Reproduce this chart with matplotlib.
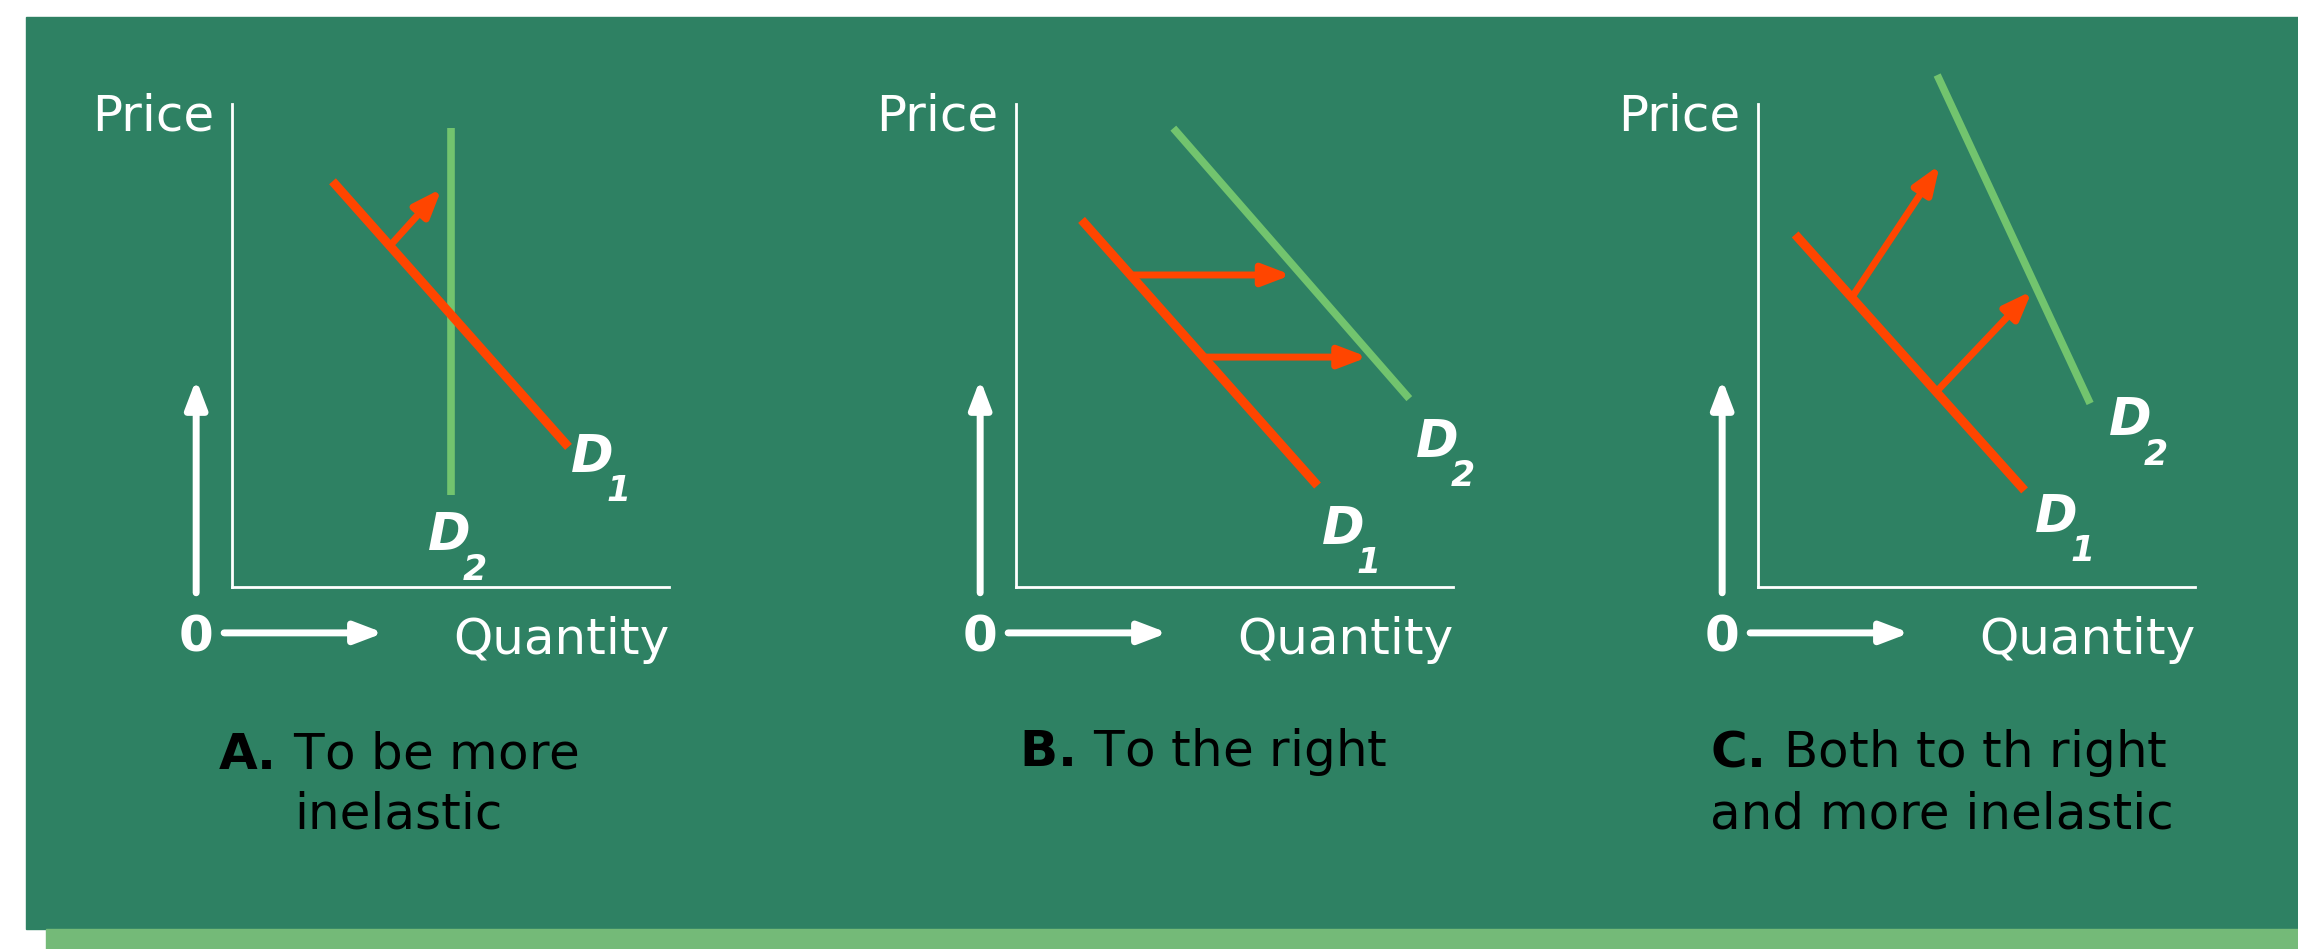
import matplotlib.pyplot as plt
from matplotlib.patches import Rectangle

plt.rcParams['font.family'] = 'DejaVu Sans'
plt.rcParams['mathtext.fontset'] = 'custom'
plt.rcParams['mathtext.bf'] = 'DejaVu Sans:bold'

# colours
bg = '#2e8163'
strip = '#74ba78'
red = '#ff4500'
green = '#72c46e'

# curves in (quantity, price) units, both axes 0..10
d1_q = {'A': [2.3, 7.7], 'B': [1.5, 6.9], 'C': [0.85, 6.1]}
d1_p = {'A': [8.4, 2.9], 'B': [7.6, 2.1], 'C': [7.3, 2.0]}
d2_q = {'A': [5.0, 5.0], 'B': [3.6, 9.0], 'C': [4.1, 7.6]}
d2_p = {'A': [9.5, 1.9], 'B': [9.5, 3.9], 'C': [10.6, 3.8]}

# shift arrows: (start_q, start_p, end_q, end_p)
shifts = {
    'A': [(3.6, 7.05, 4.8, 8.25)],
    'B': [(2.7, 6.46, 6.3, 6.46), (4.35, 4.76, 8.05, 4.76)],
    'C': [(2.15, 6.0, 4.16, 8.74), (4.12, 4.08, 6.27, 6.13)],
}

# label positions (top-left of the D)
d1_lab = {'A': (7.76, 3.19), 'B': (7.0, 1.7), 'C': (6.34, 1.95)}
d2_lab = {'A': (4.49, 1.57), 'B': (9.15, 3.5), 'C': (8.03, 3.95)}

# caption text, x, y of last baseline, alignment
captions = {
    'A': (r'$\mathbf{A.}\,$To be more' + '\ninelastic', 3.8, -5.01, 'center'),
    'B': (r'$\mathbf{B.}\,$To the right', 4.28, -3.71, 'center'),
    'C': (r'$\mathbf{C.}\,$Both to th right' + '\nand more inelastic', -1.1, -5.01, 'left'),
}

panel_x0 = {'A': 232, 'B': 1016, 'C': 1758}

W, H = 2298, 949
fig = plt.figure(figsize=(W / 100, H / 100), dpi=100)
fig.patch.set_facecolor('white')

# background panels
fig.patches.append(Rectangle((26 / W, (H - 929) / H), (W - 26) / W, (929 - 17) / H,
                             transform=fig.transFigure, color=bg, zorder=-10))
fig.patches.append(Rectangle((46 / W, 0), (W - 46) / W, (H - 929) / H,
                             transform=fig.transFigure, color=strip, zorder=-10))

arrow_kw = dict(arrowstyle='-|>,head_length=0.42,head_width=0.16',
                mutation_scale=40, shrinkA=0, shrinkB=0)


def d_label(ax, pos, sub):
    x, y = pos
    ax.text(x, y, 'D', color='white', fontsize=37, fontstyle='italic',
            fontweight='bold', va='top', ha='left')
    ax.text(x + 0.8, y - 0.86, sub, color='white', fontsize=25, fontstyle='italic',
            fontweight='bold', va='top', ha='left')


for key in ['A', 'B', 'C']:
    x0 = panel_x0[key]
    ax = fig.add_axes([x0 / W, (H - 587) / H, 437 / W, 483 / H])
    ax.set_facecolor('none')
    ax.set_xlim(0, 10)
    ax.set_ylim(0, 10)
    ax.set_xticks([])
    ax.set_yticks([])
    for s in ['top', 'right']:
        ax.spines[s].set_visible(False)
    for s in ['left', 'bottom']:
        ax.spines[s].set_color('white')
        ax.spines[s].set_linewidth(2)

    ax.plot(d2_q[key], d2_p[key], color=green, lw=5.5, clip_on=False,
            solid_capstyle='butt')
    ax.plot(d1_q[key], d1_p[key], color=red, lw=6.5, clip_on=False,
            solid_capstyle='butt')
    for q0, p0, q1, p1 in shifts[key]:
        ax.annotate('', xy=(q1, p1), xytext=(q0, p0), annotation_clip=False,
                    arrowprops=dict(color=red, lw=5, **arrow_kw))

    d_label(ax, d1_lab[key], '1')
    d_label(ax, d2_lab[key], '2')

    # direction arrows outside the axes
    ax.annotate('', xy=(-0.82, 4.3), xytext=(-0.82, -0.12), annotation_clip=False,
                arrowprops=dict(color='white', lw=5, **arrow_kw))
    ax.annotate('', xy=(3.47, -0.95), xytext=(-0.18, -0.95), annotation_clip=False,
                arrowprops=dict(color='white', lw=5, **arrow_kw))
    ax.text(-0.82, -1.33, '0', color='white', fontsize=36, fontweight='bold',
            ha='center', va='baseline')
    ax.text(-0.41, 9.46, 'Price', color='white', fontsize=36, ha='right', va='baseline')
    ax.text(10, -1.39, 'Quantity', color='white', fontsize=36, ha='right', va='baseline')

    txt, cx, cy, ha = captions[key]
    ax.text(cx, cy, txt, color='black', fontsize=36, ha=ha, va='baseline',
            multialignment=ha, linespacing=1.32)

fig.savefig('out.png', dpi=100, facecolor=fig.get_facecolor())
